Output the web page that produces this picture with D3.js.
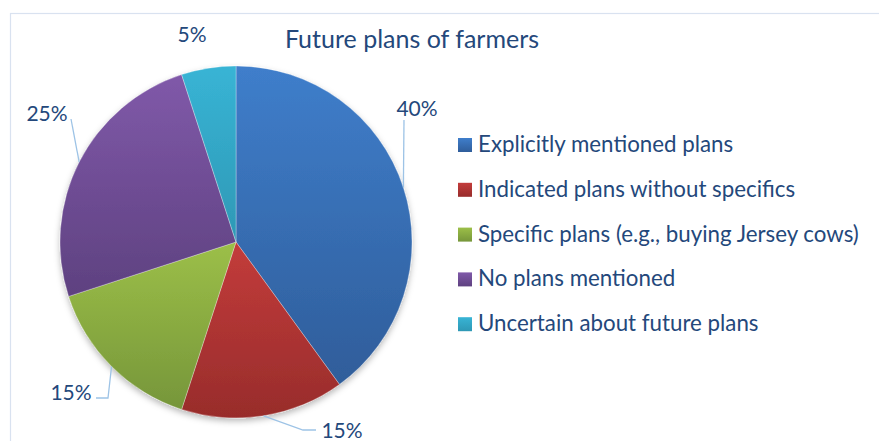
<!DOCTYPE html>
<html>
<head>
<meta charset="utf-8">
<script src="https://cdn.jsdelivr.net/npm/d3@7"></script>
<style>
  html, body { margin: 0; padding: 0; background: #fff; }
  svg { display: block; }
  text { font-family: Lato, "Open Sans", sans-serif; fill: #24487b; }
</style>
</head>
<body>
<svg id="chart" width="879" height="441"></svg>
<script>
// Survey result: future plans of farmers (share of respondents, %)
const categories = [
  "Explicitly mentioned plans",
  "Indicated plans without specifics",
  "Specific plans (e.g., buying Jersey cows)",
  "No plans mentioned",
  "Uncertain about future plans"
];
const values = [40, 15, 15, 25, 5];
const valueLabels = ["40%", "15%", "15%", "25%", "5%"];
const title = "Future plans of farmers";

// Slice colours: light (top) and dark (bottom) stops of each gradient
const colorsLight = ["#3f7ecb", "#c33c3b", "#9cbf48", "#8059a9", "#38b4d5"];
const colorsDark  = ["#2f5d9a", "#982c2b", "#76963a", "#5e4180", "#2e98b5"];

const svg = d3.select("#chart");
const W = 879, H = 441;
const cx = 236, cy = 242, R = 176;

// Chart-area frame
svg.append("rect")
  .attr("x", 10.5).attr("y", 13.5)
  .attr("width", W + 20).attr("height", H + 20)
  .attr("fill", "none").attr("stroke", "#d9e2f0").attr("stroke-width", 1.2);

const defs = svg.append("defs");
values.forEach((v, i) => {
  const g = defs.append("linearGradient")
    .attr("id", "grad" + i)
    .attr("x1", 0).attr("y1", 0).attr("x2", 0).attr("y2", 1);
  g.append("stop").attr("offset", "0%").attr("stop-color", colorsLight[i]);
  g.append("stop").attr("offset", "100%").attr("stop-color", colorsDark[i]);
});
const shadow = defs.append("filter").attr("id", "shadow")
  .attr("x", "-10%").attr("y", "-10%").attr("width", "120%").attr("height", "125%");
shadow.append("feDropShadow")
  .attr("dx", 0).attr("dy", 3).attr("stdDeviation", 3)
  .attr("flood-color", "#000").attr("flood-opacity", 0.28);

// Title
svg.append("text")
  .attr("x", 412).attr("y", 48)
  .attr("text-anchor", "middle")
  .style("font-size", "25px")
  .text(title);

// Pie
const pie = d3.pie().sort(null).value(d => d)(values);
const arc = d3.arc().innerRadius(0).outerRadius(R);
const edgeArc = d3.arc().innerRadius(R).outerRadius(R);

const gPie = svg.append("g").attr("transform", `translate(${cx},${cy})`);
gPie.append("g").attr("filter", "url(#shadow)")
  .selectAll("path").data(pie).join("path")
  .attr("d", arc)
  .attr("fill", (d, i) => `url(#grad${i})`)
  .attr("stroke", "rgba(255,255,255,0.5)")
  .attr("stroke-width", 0.6);

// Data labels, placed relative to the pie centre, with leader lines
// from the slice's outer edge through the listed bend points
const labelLayout = [
  { dx: 181, dy: -135, leader: [[168, -122]] },
  { dx: 106, dy: 187, leader: [[67, 188], [80, 188]] },
  { dx: -165, dy: 149, leader: [[-128, 156], [-140, 156]] },
  { dx: -189, dy: -130, leader: [[-165, -123]] },
  { dx: -44, dy: -209, leader: [] }
];

const gLab = svg.append("g").attr("transform", `translate(${cx},${cy})`);
pie.forEach((d, i) => {
  const L = labelLayout[i];
  if (L.leader.length) {
    const start = edgeArc.centroid(d);
    gLab.append("path")
      .attr("d", d3.line()([start, ...L.leader]))
      .attr("fill", "none")
      .attr("stroke", "#9dc3e6")
      .attr("stroke-width", 1.3);
  }
  gLab.append("text")
    .attr("x", L.dx).attr("y", L.dy)
    .attr("text-anchor", "middle")
    .attr("dominant-baseline", "central")
    .style("font-size", "21px")
    .text(valueLabels[i]);
});

// Legend
const legend = svg.append("g").attr("transform", "translate(458,145)");
const rowH = 44.8;
categories.forEach((c, i) => {
  const row = legend.append("g").attr("transform", `translate(0,${i * rowH})`);
  row.append("rect")
    .attr("x", 0).attr("y", -7).attr("width", 14).attr("height", 14)
    .attr("fill", `url(#grad${i})`);
  row.append("text")
    .attr("x", 20).attr("y", -1.5)
    .attr("dominant-baseline", "central")
    .style("font-size", "22.3px")
    .text(c);
});
</script>
</body>
</html>
